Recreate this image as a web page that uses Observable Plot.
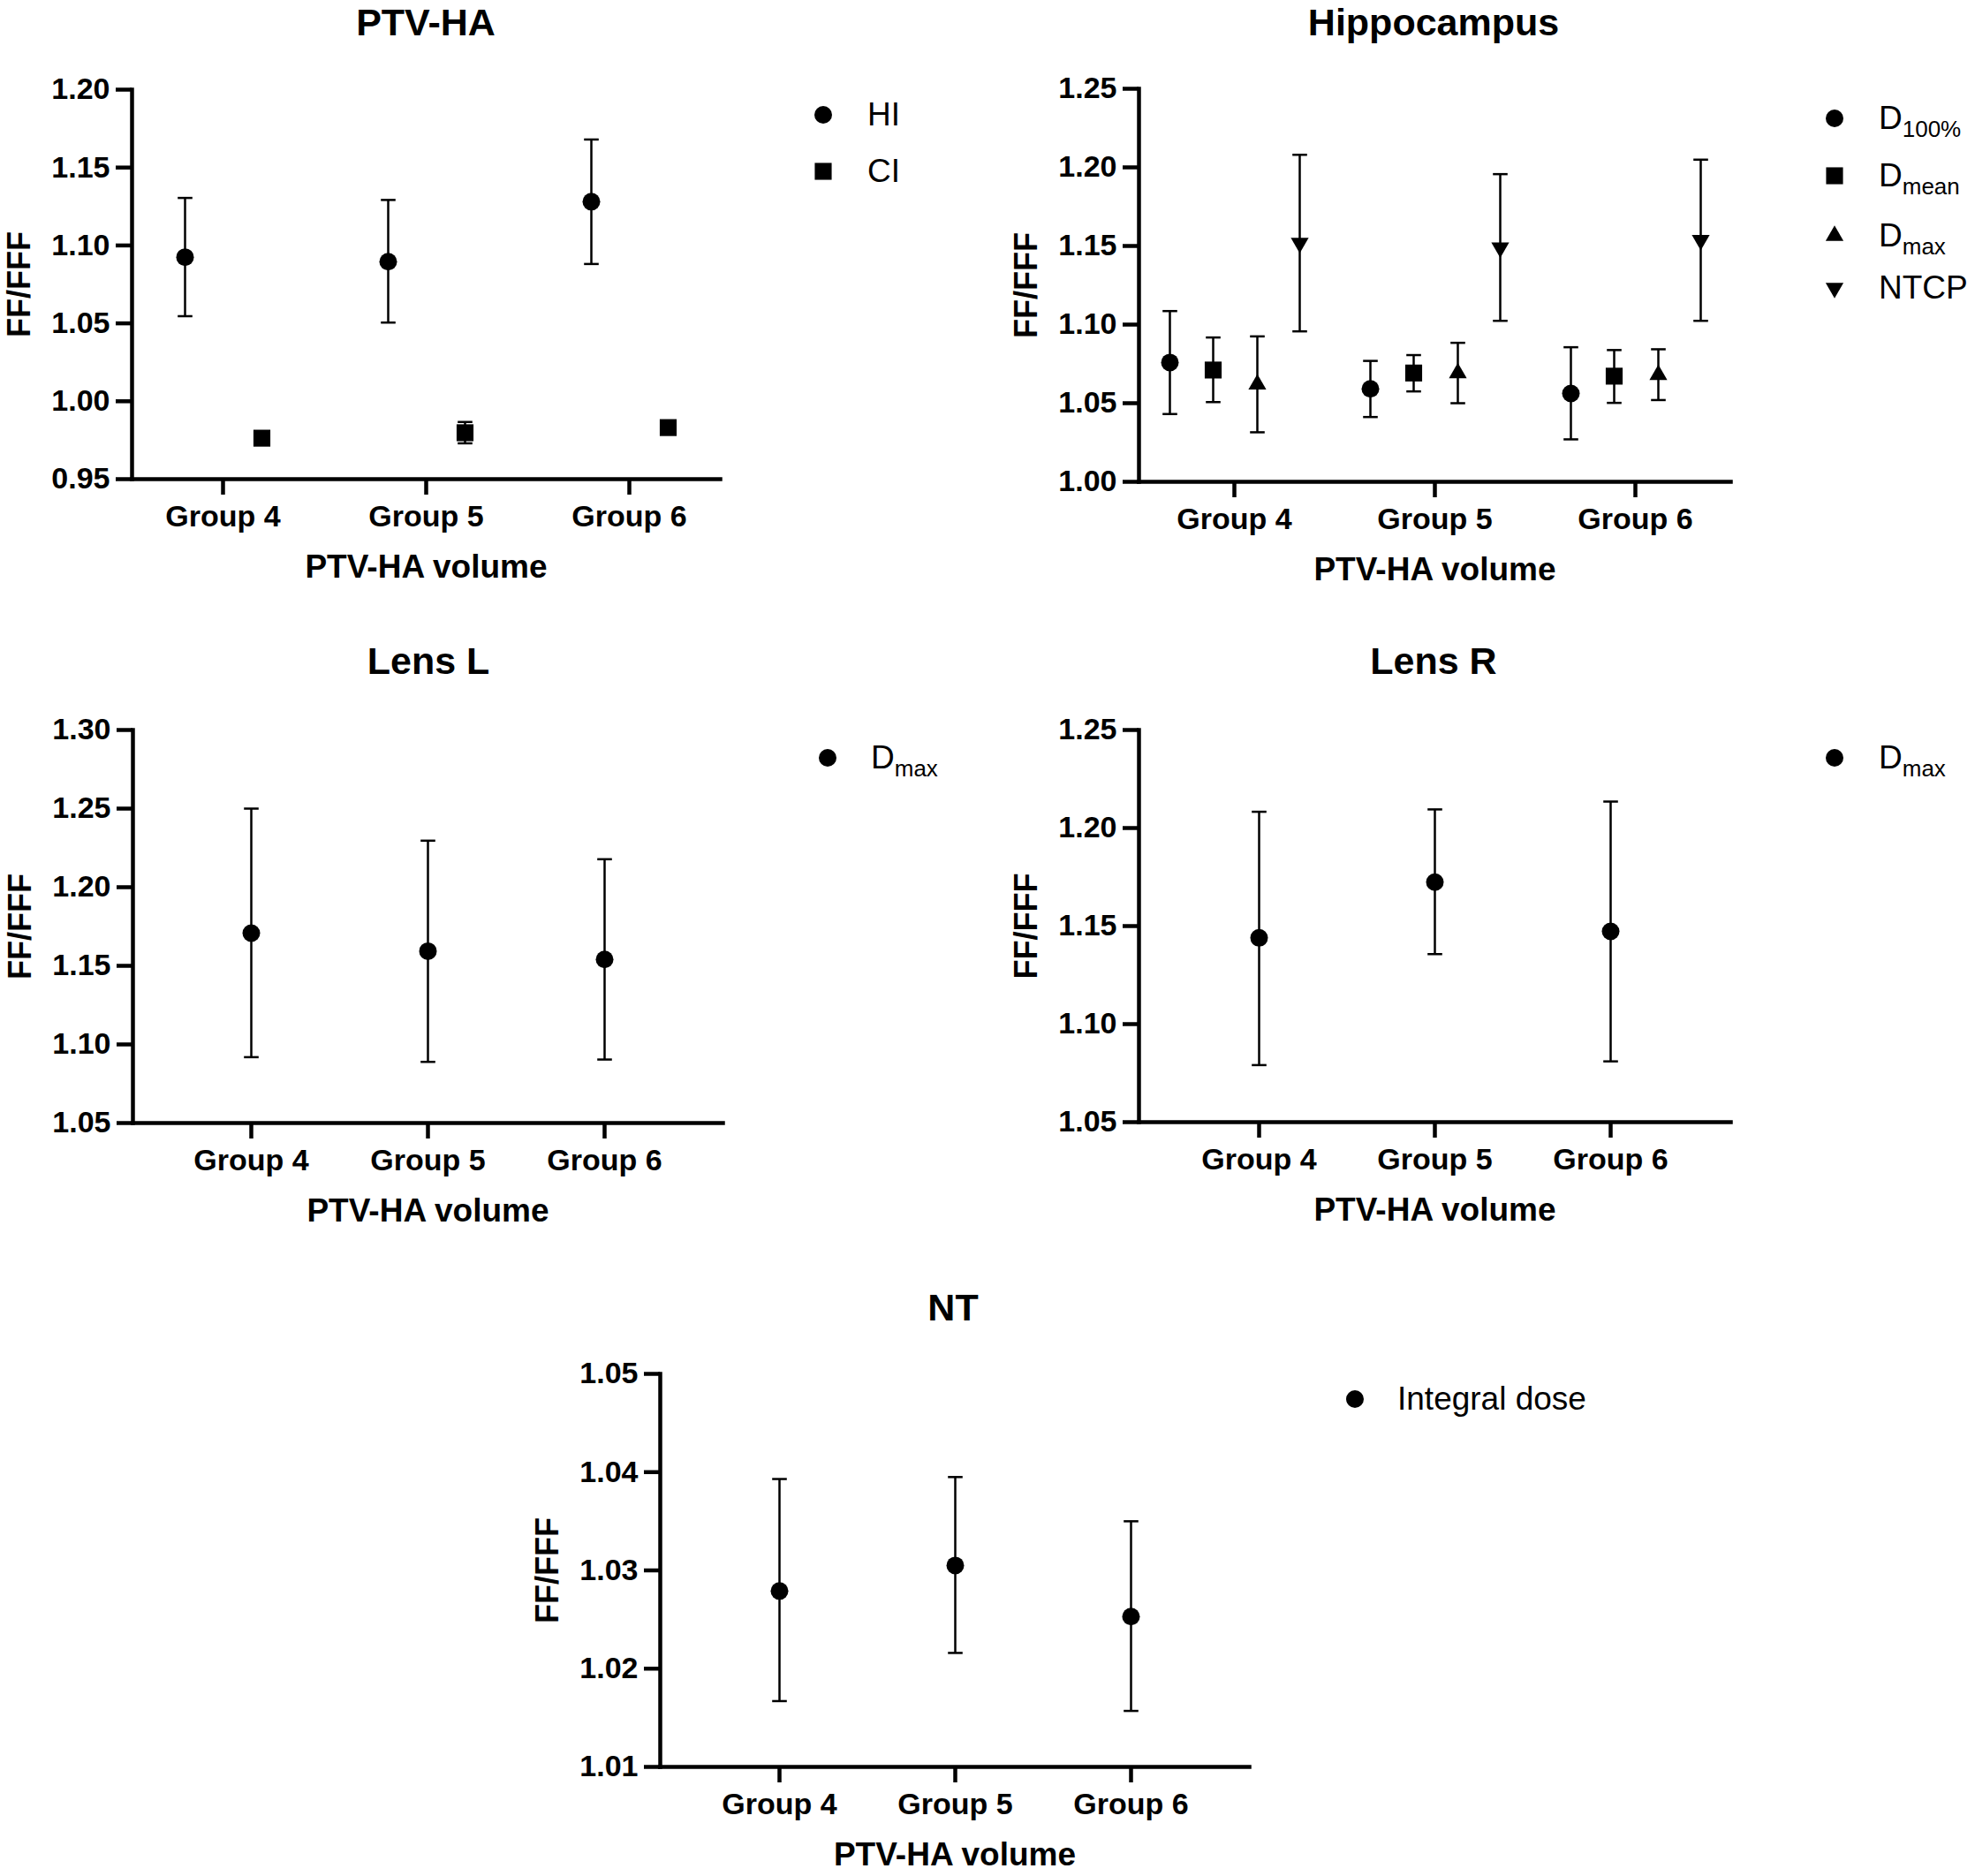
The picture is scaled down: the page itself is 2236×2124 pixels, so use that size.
<!DOCTYPE html>
<html><head><meta charset="utf-8">
<script src="https://cdn.jsdelivr.net/npm/d3@7"></script>
<script src="https://cdn.jsdelivr.net/npm/@observablehq/plot@0.6"></script>
<style>
body{margin:0;background:#fff;}
#page{position:relative;width:2236px;height:2124px;background:#fff;font-family:"Liberation Sans",Arial,sans-serif;color:#000;overflow:hidden;}
.title{position:absolute;font-size:43px;font-weight:bold;line-height:43px;white-space:nowrap;transform:translate(-50%,-50%);}
.panel{position:absolute;}
.leg{position:absolute;font-size:37px;line-height:36px;height:36px;white-space:nowrap;}
.leg sub{font-size:26px;line-height:0;vertical-align:-9px;}
.sym{position:absolute;overflow:visible;}
</style></head><body><div id="page"></div>
<script>
// ---- categories ----
const groups = ["Group 4", "Group 5", "Group 6"];
const xLabel = "PTV-HA volume";
const yLabel = "FF/FFF";

// ---- PTV-HA ----
const ptvHI_mean = [1.0925, 1.0896, 1.1281];
const ptvHI_low  = [1.0546, 1.0505, 1.0881];
const ptvHI_high = [1.1305, 1.1292, 1.1680];
const ptvCI_mean = [0.9763, 0.9798, 0.9831];
const ptvCI_low  = [0.9753, 0.9730, 0.9821];
const ptvCI_high = [0.9773, 0.9867, 0.9841];
const ptvTicks = [0.95, 1.00, 1.05, 1.10, 1.15, 1.20];

// ---- Hippocampus ----
const hipD100_mean = [1.0759, 1.0591, 1.0562];
const hipD100_low  = [1.0431, 1.0412, 1.0270];
const hipD100_high = [1.1086, 1.0769, 1.0856];
const hipDmean_mean = [1.0711, 1.0692, 1.0672];
const hipDmean_low  = [1.0507, 1.0575, 1.0502];
const hipDmean_high = [1.0918, 1.0806, 1.0838];
const hipDmax_mean = [1.0620, 1.0692, 1.0680];
const hipDmax_low  = [1.0315, 1.0500, 1.0520];
const hipDmax_high = [1.0925, 1.0884, 1.0843];
const hipNTCP_mean = [1.1519, 1.1490, 1.1537];
const hipNTCP_low  = [1.0957, 1.1024, 1.1024];
const hipNTCP_high = [1.2080, 1.1957, 1.2049];
const hipTicks = [1.00, 1.05, 1.10, 1.15, 1.20, 1.25];

// ---- Lens L ----
const lensL_mean = [1.1708, 1.1593, 1.1541];
const lensL_low  = [1.0919, 1.0889, 1.0904];
const lensL_high = [1.2500, 1.2296, 1.2178];
const lensLTicks = [1.05, 1.10, 1.15, 1.20, 1.25, 1.30];

// ---- Lens R ----
const lensR_mean = [1.1440, 1.1724, 1.1473];
const lensR_low  = [1.0791, 1.1357, 1.0810];
const lensR_high = [1.2083, 1.2095, 1.2135];
const lensRTicks = [1.05, 1.10, 1.15, 1.20, 1.25];

// ---- NT ----
const nt_mean = [1.0279, 1.0305, 1.0253];
const nt_low  = [1.0167, 1.0216, 1.0157];
const nt_high = [1.0393, 1.0395, 1.0350];
const ntTicks = [1.01, 1.02, 1.03, 1.04, 1.05];

// ---- helpers ----
function rows(mean, low, high) {
  return groups.map((g, i) => ({group: g, mean: mean[i], low: low[i], high: high[i]}));
}
const SYM = {
  circle: {symbol: "circle", r: 10, rotate: 0, d3: d3.symbolCircle},
  square: {symbol: "square", r: 10.8, rotate: 0, d3: d3.symbolSquare},
  up: {symbol: "triangle", r: 7.5, rotate: 0, d3: d3.symbolTriangle},
  down: {symbol: "triangle", r: 7.5, rotate: 180, d3: d3.symbolTriangle}
};
// error-bar cap: a short horizontal stroke
const capSymbol = {draw(context) { context.moveTo(-8.3, 0); context.lineTo(8.3, 0); }};

const page = document.getElementById("page");
const ML = 149, MT = 45, MR = 20, MB = 130;

function panel(cfg) {
  const {title, titleX, titleY, axisLeft, axisTop, axisRight, axisBottom, yDomain, yTicks, padding, series, legend} = cfg;
  const width = ML + (axisRight - axisLeft) + MR;
  const height = MT + (axisBottom - axisTop) + MB;
  const marks = [
    Plot.frame({anchor: "left", stroke: "black", strokeWidth: 4.5, strokeLinecap: "square"}),
    Plot.frame({anchor: "bottom", stroke: "black", strokeWidth: 4.5, strokeLinecap: "square"}),
    Plot.axisX({tickSize: 18, tickPadding: 11, strokeWidth: 4.5, label: null, fontSize: 34}),
    Plot.axisX({ticks: [], tickSize: 0, label: xLabel, labelAnchor: "center", labelOffset: 111, labelArrow: "none", fontSize: 37}),
    Plot.axisY({ticks: yTicks, tickFormat: d3.format(".2f"), tickSize: 18, tickPadding: 7, strokeWidth: 4.5, label: null, fontSize: 34}),
    Plot.axisY({ticks: [], tickSize: 0, label: yLabel, labelAnchor: "center", labelOffset: 141, labelArrow: "none", fontSize: 36})
  ];
  for (const s of series) {
    const sym = SYM[s.shape];
    marks.push(
      Plot.ruleX(s.data, {x: "group", y1: "low", y2: "high", dx: s.dx, stroke: "black", strokeWidth: 2.5}),
      Plot.dot(s.data, {x: "group", y: "high", dx: s.dx, symbol: capSymbol, r: 5, fill: "none", stroke: "black", strokeWidth: 2.5}),
      Plot.dot(s.data, {x: "group", y: "low", dx: s.dx, symbol: capSymbol, r: 5, fill: "none", stroke: "black", strokeWidth: 2.5}),
      Plot.dot(s.data, {x: "group", y: "mean", dx: s.dx, symbol: sym.symbol, r: sym.r, rotate: sym.rotate, fill: "black", stroke: "none"})
    );
  }
  const svg = Plot.plot({
    width, height,
    marginLeft: ML, marginTop: MT, marginRight: MR, marginBottom: MB,
    style: {fontFamily: '"Liberation Sans", Arial, sans-serif', fontWeight: "bold", color: "black", background: "transparent", overflow: "visible"},
    x: {type: "point", domain: groups, padding},
    y: {domain: yDomain, nice: false},
    marks
  });
  svg.classList.add("panel");
  svg.style.left = (axisLeft - ML) + "px";
  svg.style.top = (axisTop - MT) + "px";
  page.appendChild(svg);

  const t = document.createElement("div");
  t.className = "title";
  t.textContent = title;
  t.style.left = titleX + "px";
  t.style.top = titleY + "px";
  page.appendChild(t);

  legend.items.forEach((it, i) => {
    const y = legend.ys[i];
    const sym = SYM[it.shape];
    const ns = "http://www.w3.org/2000/svg";
    const s = document.createElementNS(ns, "svg");
    s.setAttribute("class", "sym");
    s.setAttribute("width", 30); s.setAttribute("height", 30);
    s.style.left = (legend.symX - 15) + "px";
    s.style.top = (y - 15) + "px";
    const p = document.createElementNS(ns, "path");
    p.setAttribute("d", d3.symbol(sym.d3, Math.PI * sym.r * sym.r)());
    p.setAttribute("transform", `translate(15,15) rotate(${sym.rotate})`);
    p.setAttribute("fill", "black");
    s.appendChild(p);
    page.appendChild(s);
    const d = document.createElement("div");
    d.className = "leg";
    d.style.left = legend.textX + "px";
    d.style.top = (y - 18) + "px";
    d.append(document.createTextNode(it.label));
    if (it.sub) { const sb = document.createElement("sub"); sb.textContent = it.sub; d.append(sb); }
    page.appendChild(d);
  });
}

panel({
  title: "PTV-HA", titleX: 482, titleY: 25,
  axisLeft: 149, axisTop: 101, axisRight: 815, axisBottom: 542,
  yDomain: [0.95, 1.20], yTicks: ptvTicks, padding: 0.442,
  series: [
    {shape: "circle", dx: -43, data: rows(ptvHI_mean, ptvHI_low, ptvHI_high)},
    {shape: "square", dx: 44, data: rows(ptvCI_mean, ptvCI_low, ptvCI_high)}
  ],
  legend: {symX: 932, textX: 982, ys: [130, 194], items: [{shape: "circle", label: "HI"}, {shape: "square", label: "CI"}]}
});

panel({
  title: "Hippocampus", titleX: 1623, titleY: 25,
  axisLeft: 1289, axisTop: 100, axisRight: 1959, axisBottom: 545,
  yDomain: [1.00, 1.25], yTicks: hipTicks, padding: 0.47,
  series: [
    {shape: "circle", dx: -73, data: rows(hipD100_mean, hipD100_low, hipD100_high)},
    {shape: "square", dx: -24, data: rows(hipDmean_mean, hipDmean_low, hipDmean_high)},
    {shape: "up", dx: 26, data: rows(hipDmax_mean, hipDmax_low, hipDmax_high)},
    {shape: "down", dx: 74, data: rows(hipNTCP_mean, hipNTCP_low, hipNTCP_high)}
  ],
  legend: {symX: 2077, textX: 2127, ys: [134, 199, 267, 326], items: [
    {shape: "circle", label: "D", sub: "100%"},
    {shape: "square", label: "D", sub: "mean"},
    {shape: "up", label: "D", sub: "max"},
    {shape: "down", label: "NTCP"}
  ]}
});

panel({
  title: "Lens L", titleX: 485, titleY: 748,
  axisLeft: 150, axisTop: 826, axisRight: 818, axisBottom: 1271,
  yDomain: [1.05, 1.30], yTicks: lensLTicks, padding: 0.668,
  series: [{shape: "circle", dx: 0, data: rows(lensL_mean, lensL_low, lensL_high)}],
  legend: {symX: 937, textX: 986, ys: [858], items: [{shape: "circle", label: "D", sub: "max"}]}
});

panel({
  title: "Lens R", titleX: 1623, titleY: 748,
  axisLeft: 1289, axisTop: 826, axisRight: 1959, axisBottom: 1270,
  yDomain: [1.05, 1.25], yTicks: lensRTicks, padding: 0.676,
  series: [{shape: "circle", dx: 0, data: rows(lensR_mean, lensR_low, lensR_high)}],
  legend: {symX: 2077, textX: 2127, ys: [858], items: [{shape: "circle", label: "D", sub: "max"}]}
});

panel({
  title: "NT", titleX: 1079, titleY: 1480,
  axisLeft: 747, axisTop: 1555, axisRight: 1414, axisBottom: 2000,
  yDomain: [1.01, 1.05], yTicks: ntTicks, padding: 0.673,
  series: [{shape: "circle", dx: 0, data: rows(nt_mean, nt_low, nt_high)}],
  legend: {symX: 1534, textX: 1582, ys: [1584], items: [{shape: "circle", label: "Integral dose"}]}
});
</script></body></html>
